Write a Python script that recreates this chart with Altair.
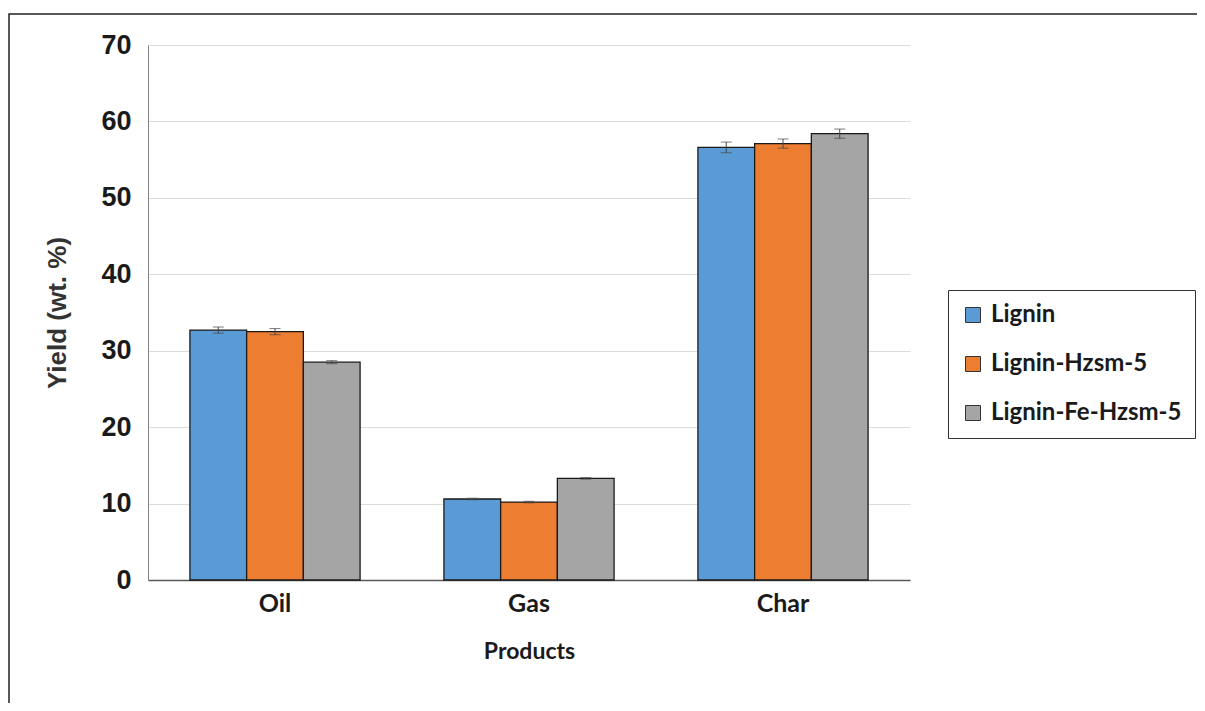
import altair as alt
import pandas as pd

products = ["Oil", "Gas", "Char"]
series = ["Lignin", "Lignin-Hzsm-5", "Lignin-Fe-Hzsm-5"]
lignin = [32.7, 10.6, 56.6]
lignin_hzsm5 = [32.5, 10.2, 57.1]
lignin_fe_hzsm5 = [28.5, 13.3, 58.4]
err_lignin = [0.4, 0.1, 0.7]
err_lignin_hzsm5 = [0.4, 0.1, 0.6]
err_lignin_fe_hzsm5 = [0.2, 0.1, 0.6]
colors = ["#5B9BD5", "#ED7D31", "#A5A5A5"]
y_ticks = [0, 10, 20, 30, 40, 50, 60, 70]

rows = []
for s, vals, errs in zip(series, [lignin, lignin_hzsm5, lignin_fe_hzsm5],
                         [err_lignin, err_lignin_hzsm5, err_lignin_fe_hzsm5]):
    for p, v, e in zip(products, vals, errs):
        rows.append({"Product": p, "Series": s, "Yield": v, "lo": v - e, "hi": v + e})
df = pd.DataFrame(rows)

W, H = 762, 535
PL, PT = 140, 37
PR = 1189 - PL - W
PB = 695 - PT - H

xenc = alt.X("Product:N", sort=products,
             scale=alt.Scale(paddingInner=0.33, paddingOuter=0.165),
             axis=alt.Axis(title="Products", labelAngle=0, ticks=False,
                           labelFont="Lato", labelFontWeight="bold", labelFontSize=25,
                           labelColor="#1a1a1a", labelPadding=11,
                           titleFont="Lato", titleFontWeight="bold", titleFontSize=23,
                           titleColor="#1a1a1a", titlePadding=24,
                           domainColor="#595959", domainWidth=1.5))
xoff = alt.XOffset("Series:N", sort=series)
color = alt.Color("Series:N", sort=series,
                  scale=alt.Scale(domain=series, range=colors),
                  legend=alt.Legend(title=None, orient="none", legendX=800, legendY=245,
                                    symbolType="square", symbolSize=225,
                                    symbolStrokeColor="#333", symbolStrokeWidth=1,
                                    labelFont="Lato", labelFontWeight="bold",
                                    labelFontSize=24, labelColor="#1a1a1a",
                                    rowPadding=25, padding=13, labelLimit=400,
                                    strokeColor="#333", fillColor="white",
                                    symbolOffset=0, labelOffset=6))

yscale = alt.Scale(domain=[0, 70])
yaxis = alt.Axis(title="Yield (wt. %)", values=y_ticks, ticks=False,
                 labelFont="Liberation Sans", labelFontWeight="bold", labelFontSize=27,
                 labelColor="#1a1a1a", labelPadding=17,
                 titleFont="Liberation Sans", titleFontWeight="bold", titleFontSize=26,
                 titleColor="#333", titlePadding=30,
                 gridColor="#dcdcdc", gridWidth=1.2, domainColor="#808080")

base = alt.Chart(df)

bars = base.mark_bar(stroke="#1a1a1a", strokeWidth=1.3).encode(
    x=xenc, xOffset=xoff, color=color,
    y=alt.Y("Yield:Q", scale=yscale, axis=yaxis),
)

rules = base.mark_rule(color="#444", strokeWidth=1).encode(
    x=alt.X("Product:N", sort=products), xOffset=xoff,
    y=alt.Y("lo:Q", scale=yscale), y2="hi:Q",
)
tick_lo = base.mark_tick(color="#444", thickness=1, size=11, orient="horizontal").encode(
    x=alt.X("Product:N", sort=products), xOffset=xoff, y=alt.Y("lo:Q", scale=yscale),
)
tick_hi = base.mark_tick(color="#444", thickness=1, size=11, orient="horizontal").encode(
    x=alt.X("Product:N", sort=products), xOffset=xoff, y=alt.Y("hi:Q", scale=yscale),
)

frame = alt.Chart(pd.DataFrame({"k": [0]})).mark_rect(
    fill=None, stroke="#222", strokeWidth=1.5
).encode(
    x=alt.value(-PL + 1), x2=alt.value(W + PR + 40),
    y=alt.value(-PT + 6), y2=alt.value(H + PB + 40),
)

chart = alt.layer(frame, bars, rules, tick_lo, tick_hi).properties(
    width=W, height=H,
    padding={"left": PL, "top": PT, "right": PR, "bottom": PB},
    autosize=alt.AutoSizeParams(type="none"),
).configure(background="white").configure_view(stroke=None)

chart.save("out.html", embed_options={"renderer": "svg", "actions": False})
